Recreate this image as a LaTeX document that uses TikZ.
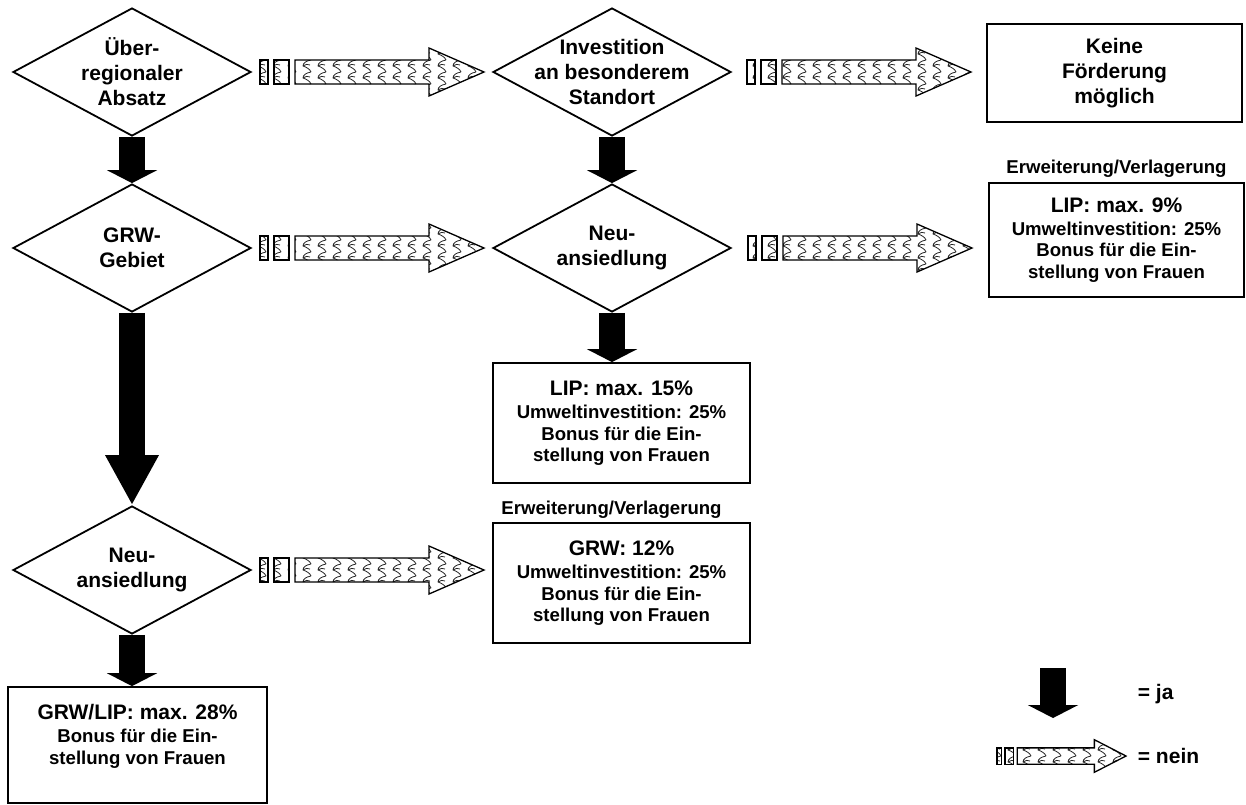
\documentclass[tikz,border=0pt]{standalone}
\usepackage{fontspec}
\setmainfont{Liberation Sans}
\usetikzlibrary{shapes.geometric,arrows.meta,patterns,calc,positioning}
\newcommand\grossschrift{\fontsize{21}{25}\selectfont\bfseries}
\newcommand\kleinschrift{\fontsize{18.6}{21.5}\selectfont\bfseries}
\pgfdeclarepatternformonly{schuppen}{\pgfpoint{-1pt}{-1pt}}{\pgfpoint{16pt}{13pt}}{\pgfpoint{15pt}{12pt}}{
  \pgfsetlinewidth{0.8pt}
  \pgfpathmoveto{\pgfpoint{11pt}{12pt}}
  \pgfpathcurveto{\pgfpoint{6pt}{11pt}}{\pgfpoint{3pt}{9pt}}{\pgfpoint{3pt}{6pt}}
  \pgfpathcurveto{\pgfpoint{6pt}{5pt}}{\pgfpoint{10pt}{3pt}}{\pgfpoint{11pt}{0pt}}
  \pgfpathmoveto{\pgfpoint{3pt}{6pt}}
  \pgfpathcurveto{\pgfpoint{5pt}{8pt}}{\pgfpoint{8pt}{8pt}}{\pgfpoint{10pt}{7pt}}
  \pgfusepath{stroke}
}
\begin{document}
\begin{tikzpicture}[x=1pt, y=-1pt, line width=1.8pt,
    frage/.style={diamond, draw, shape aspect=1.86, minimum width=238pt, minimum height=128pt, inner sep=-12pt, align=center, font=\grossschrift},
    kasten/.style={rectangle, draw, align=center, inner sep=0pt, font=\kleinschrift},
    titel/.style={inner sep=0pt, font=\kleinschrift},
    ja/.style={line width=26pt, -{Triangle[width=50pt, length=#1]}}, ja/.default=13pt,
    muster/.style={line width=1.3pt, pattern=schuppen, pattern color=black!85},
    pics/nein/.style={code={
        \draw[muster] (-112,-12) rectangle (-104,12);
        \draw[muster] (-98,-12) rectangle (-83,12);
        \draw[muster] (-77,-12) -- (57,-12) -- (57,-24) -- (112,0) -- (57,24) -- (57,12) -- (-77,12) -- cycle;
    }}]
    \useasboundingbox (0,0) rectangle (1246,804);
    \node[frage] (absatz) at (132, 72) {Über-\\regionaler\\Absatz};
    \node[frage] (gebiet) at (132, 248) {GRW-\\Gebiet};
    \node[frage] (neu1) at (132, 570) {Neu-\\ansiedlung};
    \node[frage] (standort) at (612, 72) {Investition\\an besonderem\\Standort};
    \node[frage] (neu2) at (612, 248) {Neu-\\ansiedlung};
    \node[kasten, font=\grossschrift, minimum width=255pt, minimum height=98pt] (keine) at (1114.5, 73) {Keine\\Förderung\\möglich};
    \node[kasten, minimum width=255pt, minimum height=114pt] (lip9) at (1116.5, 240) {{\grossschrift LIP: max. 9\%}\\[1pt] Umweltinvestition: 25\%\\ Bonus für die Ein-\\ stellung von Frauen};
    \node[kasten, minimum width=257pt, minimum height=120pt] (lip15) at (621.5, 423) {{\grossschrift LIP: max. 15\%}\\[2pt] Umweltinvestition: 25\%\\ Bonus für die Ein-\\ stellung von Frauen};
    \node[kasten, minimum width=257pt, minimum height=120pt] (grw12) at (621.5, 583) {{\grossschrift GRW: 12\%}\\[2pt] Umweltinvestition: 25\%\\ Bonus für die Ein-\\ stellung von Frauen};
    \node[kasten, minimum width=259pt, minimum height=116pt] (grwlip) at (137.5, 745) {{\grossschrift GRW/LIP: max. 28\%}\\[2pt] Bonus für die Ein-\\ stellung von Frauen\\ \mbox{}};
    \node[titel, above=4pt of lip9] (erw1) {Erweiterung/Verlagerung};
    \node[titel, above=3pt of grw12, xshift=-10pt] (erw2) {Erweiterung/Verlagerung};
    \draw[ja] (absatz.south) -- (gebiet.north);
    \draw[ja=50pt] (gebiet.south) -- (neu1.north);
    \draw[ja] (neu1.south) -- (neu1.south |- grwlip.north);
    \draw[ja] (standort.south) -- (neu2.north);
    \draw[ja] (neu2.south) -- (neu2.south |- lip15.north);
    \pic at ($(absatz.east)!0.5!(absatz.east -| standort.west)$) {nein};
    \pic at ($(standort.east)!0.5!(standort.east -| keine.west)$) {nein};
    \pic at ($(gebiet.east)!0.5!(gebiet.east -| neu2.west)$) {nein};
    \pic at ($(neu2.east)!0.5!(neu2.east -| lip9.west)$) {nein};
    \pic at ($(neu1.east)!0.5!(neu1.east -| grw12.west)$) {nein};
    \coordinate (jaoben) at (1053, 668);
    \coordinate (jaunten) at (1053, 718);
    \draw[ja] (jaoben) -- (jaunten);
    \pic[xscale=0.576, yscale=0.68] at (1061.5, 756) {nein};
    \node[anchor=base west, inner sep=0pt, font=\grossschrift] (ja) at (1137, 699) {= ja};
    \node[anchor=base west, inner sep=0pt, font=\grossschrift] (nein) at (1137, 763) {= nein};
\end{tikzpicture}
\end{document}
